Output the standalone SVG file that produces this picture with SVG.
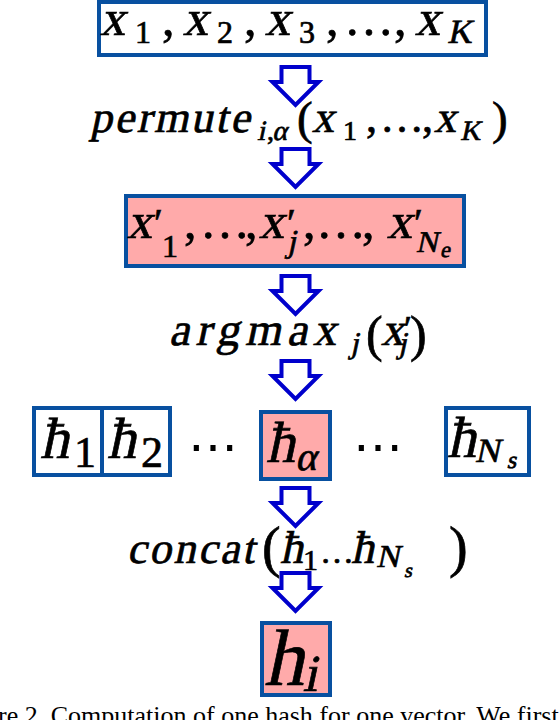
<svg xmlns="http://www.w3.org/2000/svg" width="560" height="720" viewBox="0 0 560 720">
<style>
.box{fill:#ffffff;stroke:#0850a0;stroke-width:4}
.hot{fill:#ffaaaa;stroke:#0850a0;stroke-width:4}
.m{font-family:"Liberation Serif","Times New Roman",serif;fill:#000;stroke:#000;stroke-width:0.7}
.cap{font-family:"Liberation Serif","Times New Roman",serif;font-size:26px;fill:#000}
.dots{font-family:"DejaVu Serif",serif;font-size:50px;fill:#000;text-anchor:middle}
</style>
<defs>
<path id="arr" d="M-14,0 H14 V15 H23 L0,38 L-23,15 H-14 Z" fill="#ffffff" stroke="#0000cc" stroke-width="4" stroke-linejoin="miter"/>
</defs>
<rect width="560" height="720" fill="#ffffff"/>

<g id="connectors">
<use href="#arr" transform="translate(295.5,67)"/>
<use href="#arr" transform="translate(295.5,149)"/>
<use href="#arr" transform="translate(295.5,276)"/>
<use href="#arr" transform="translate(295.5,361)"/>
<use href="#arr" transform="translate(295.5,488)"/>
<use href="#arr" transform="translate(295.5,573)"/>
</g>

<g id="input">
<rect class="box" x="99" y="2" width="387" height="53"/>
<text class="m" font-size="50" y="35" transform="matrix(1 0 -0.2126 1 7.44 0)"><tspan x="100">x</tspan><tspan x="183">x</tspan><tspan x="265">x</tspan><tspan x="415">x</tspan><tspan x="449" y="43" font-size="34">K</tspan></text>
<text class="m" font-size="50" y="35"><tspan x="135" y="43" font-size="32">1</tspan><tspan x="162" y="35">,</tspan><tspan x="217" y="43" font-size="32">2</tspan><tspan x="244" y="35">,</tspan><tspan x="299" y="43" font-size="32">3</tspan><tspan x="326" y="35">,</tspan><tspan x="344">…</tspan><tspan x="394">,</tspan></text>
</g>

<g id="permute">
<text class="m" font-size="44" y="132" transform="matrix(1 0 -0.2126 1 28.06 0)"><tspan x="90" letter-spacing="2.6">permute</tspan><tspan x="259" y="140" font-size="28">i</tspan><tspan x="274" y="140" font-size="28">α</tspan><tspan x="312" y="132">x</tspan><tspan x="434">x</tspan><tspan x="462" y="140" font-size="28">K</tspan></text>
<text class="m" font-size="44" y="132"><tspan x="267" y="140" font-size="28">,</tspan><tspan x="297" y="134" font-size="47">(</tspan><tspan x="343" y="140" font-size="28">1</tspan><tspan x="366" y="132">,</tspan><tspan x="380">…</tspan><tspan x="422">,</tspan><tspan x="492" y="134" font-size="47">)</tspan></text>
</g>

<g id="permuted">
<rect class="hot" x="126" y="196" width="338" height="70"/>
<text class="m" font-size="50" y="238" transform="matrix(1 0 -0.2126 1 50.6 0)"><tspan x="127">x</tspan><tspan x="259">x</tspan><tspan x="290" y="252" font-size="32">j</tspan><tspan x="387" y="238">x</tspan><tspan x="419" y="252" font-size="30">N</tspan><tspan x="444" y="257" font-size="22">e</tspan></text>
<text class="m" font-size="50" y="238"><tspan x="154" y="236" font-size="40">′</tspan><tspan x="162" y="257" font-size="32">1</tspan><tspan x="184" y="238">,</tspan><tspan x="200">…</tspan><tspan x="245">,</tspan><tspan x="287" y="236" font-size="40">′</tspan><tspan x="303" y="238">,</tspan><tspan x="316">…</tspan><tspan x="362">,</tspan><tspan x="414" y="236" font-size="40">′</tspan></text>
</g>

<g id="argmax">
<text class="m" font-size="46" y="345" transform="matrix(1 0 -0.2126 1 73.35 0)"><tspan x="169" letter-spacing="6">argmax</tspan><tspan x="352" y="353" font-size="30">j</tspan><tspan x="381" y="345">x</tspan><tspan x="400" y="353" font-size="30">j</tspan></text>
<text class="m" font-size="50" y="351"><tspan x="366">(</tspan><tspan x="404" y="341" font-size="36">′</tspan><tspan x="410" y="351">)</tspan></text>
</g>

<g id="h1">
<rect class="box" x="34" y="408" width="68" height="67"/>
<text class="m" font-size="58" x="40" y="458" transform="matrix(1 0 -0.2126 1 97.37 0)">ħ</text>
<text class="m" font-size="44" x="74" y="467">1</text>
</g>
<g id="h2">
<rect class="box" x="102" y="408" width="68" height="67"/>
<text class="m" font-size="58" x="107" y="458" transform="matrix(1 0 -0.2126 1 97.37 0)">ħ</text>
<text class="m" font-size="44" x="141" y="467">2</text>
</g>
<g id="dots1"><text class="dots" x="213" y="463">⋯</text></g>
<g id="halpha">
<rect class="hot" x="261" y="412" width="69" height="67"/>
<text class="m" font-size="58" y="462" transform="matrix(1 0 -0.2126 1 98.22 0)"><tspan x="266">ħ</tspan><tspan x="297" y="470" font-size="40">α</tspan></text>
</g>
<g id="dots2"><text class="dots" x="378" y="463">⋯</text></g>
<g id="hNs">
<rect class="box" x="446" y="408" width="83" height="67"/>
<text class="m" font-size="58" y="457" transform="matrix(1 0 -0.2126 1 97.16 0)"><tspan x="447">ħ</tspan><tspan x="476" y="462" font-size="34">N</tspan><tspan x="509" y="468" font-size="24">s</tspan></text>
</g>

<g id="concat">
<text class="m" font-size="44" y="563" transform="matrix(1 0 -0.2126 1 119.69 0)"><tspan x="127" letter-spacing="2.5">concat</tspan><tspan x="280" y="563" font-size="46">ħ</tspan><tspan x="351" font-size="46">ħ</tspan><tspan x="377" y="567" font-size="32">N</tspan><tspan x="407" y="577" font-size="20">s</tspan></text>
<text class="m" font-size="56" y="566"><tspan x="262">(</tspan><tspan x="303" y="570" font-size="30">1</tspan><tspan x="320" y="563" font-size="34">…</tspan><tspan x="449" y="566">)</tspan></text>
</g>

<g id="hi">
<rect class="hot" x="262" y="623" width="68" height="72"/>
<text class="m" font-size="80" y="685" transform="matrix(1 0 -0.2126 1 145.63 0)"><tspan x="264">h</tspan><tspan x="304" y="691" font-size="52">i</tspan></text>
</g>

<text class="cap" x="-2" y="724">re 2. Computation of one hash for one vector. We first</text>
</svg>
